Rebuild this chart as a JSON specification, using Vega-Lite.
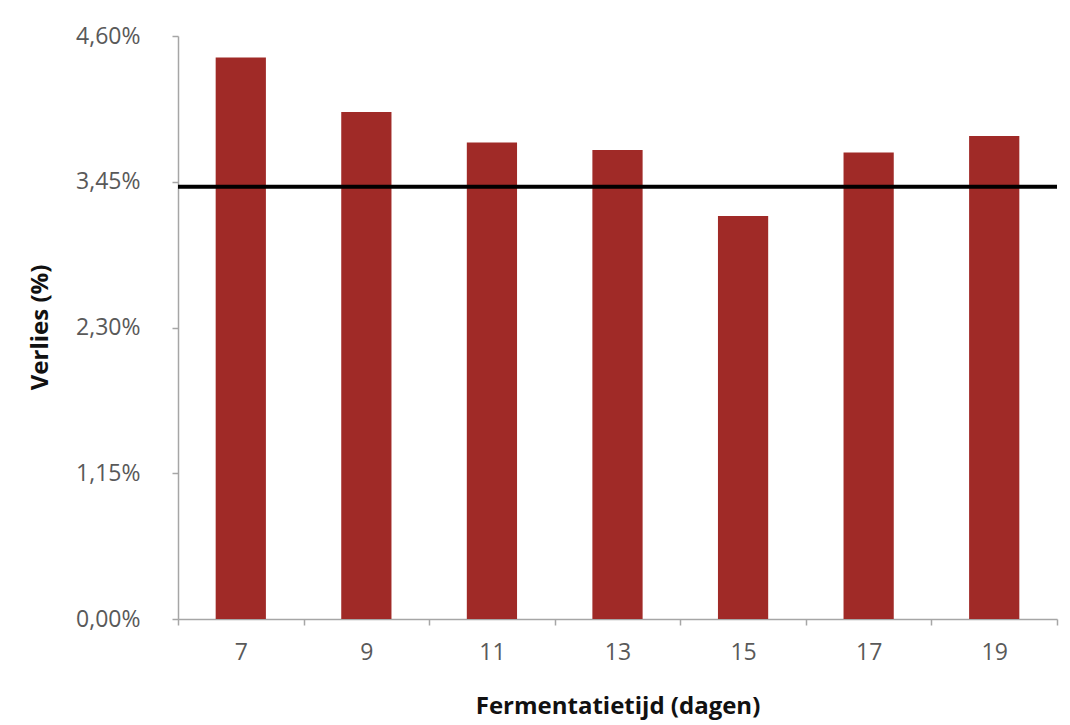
{
  "$schema": "https://vega.github.io/schema/vega-lite/v6.json",
  "autosize": "none",
  "width": 879,
  "height": 583,
  "padding": {"left": 178, "top": 36, "right": 13, "bottom": 106},
  "background": "white",
  "config": {
    "view": {"stroke": null},
    "font": "Open Sans",
    "axis": {
      "domainColor": "#a6a6a6",
      "domainWidth": 1.5,
      "tickColor": "#a6a6a6",
      "tickWidth": 1.5,
      "tickSize": 6,
      "grid": false,
      "labelColor": "#595959",
      "labelFont": "Open Sans",
      "labelFontSize": 23,
      "titleFont": "Open Sans",
      "titleFontWeight": "bold",
      "titleColor": "#111111",
      "titleFontSize": 24
    }
  },
  "layer": [
    {
      "data": {
        "values": [
          {"dagen": "7", "verlies": 4.43},
          {"dagen": "9", "verlies": 4.00},
          {"dagen": "11", "verlies": 3.76},
          {"dagen": "13", "verlies": 3.70},
          {"dagen": "15", "verlies": 3.18},
          {"dagen": "17", "verlies": 3.68},
          {"dagen": "19", "verlies": 3.81}
        ]
      },
      "mark": {"type": "bar", "color": "#a02a27", "width": {"band": 0.4}},
      "encoding": {
        "x": {
          "field": "dagen",
          "type": "ordinal",
          "sort": null,
          "scale": {"type": "band", "paddingInner": 0, "paddingOuter": 0},
          "axis": {
            "title": "Fermentatietijd (dagen)",
            "labelAngle": 0,
            "tickBand": "extent",
            "labelPadding": 16,
            "titleBaseline": "alphabetic",
            "titleY": 94,
            "titleAnchor": "middle"
          }
        },
        "y": {
          "field": "verlies",
          "type": "quantitative",
          "scale": {"domain": [0, 4.6], "nice": false, "zero": true},
          "axis": {
            "title": "Verlies (%)",
            "values": [0, 1.15, 2.3, 3.45, 4.6],
            "labelExpr": "replace(format(datum.value, '.2f'), '.', ',') + '%'",
            "labelPadding": 32,
            "titleAngle": -90,
            "titleAlign": "center",
            "titleBaseline": "middle",
            "titleX": -138,
            "titleY": 291
          }
        }
      }
    },
    {
      "data": {"values": [{"referentie": 3.41}]},
      "mark": {"type": "rule", "color": "#000000", "strokeWidth": 4},
      "encoding": {
        "y": {"field": "referentie", "type": "quantitative"}
      }
    }
  ]
}
